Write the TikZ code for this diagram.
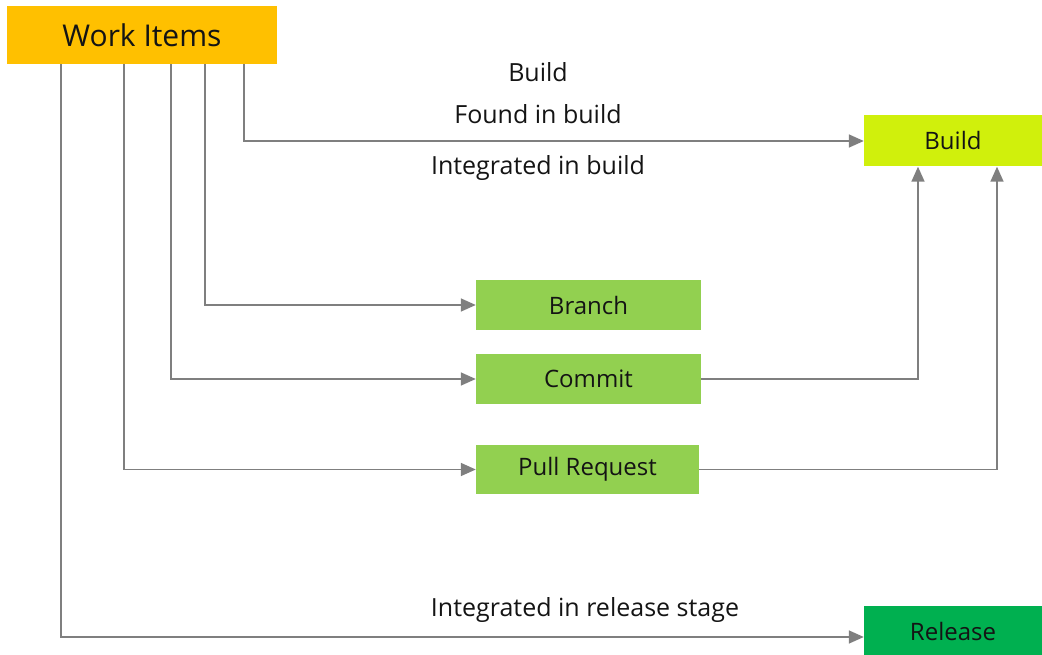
\documentclass[tikz,border=0pt]{standalone}
\usepackage{fontspec}
\setmainfont{Open Sans}
\usetikzlibrary{arrows.meta}
\definecolor{wiC}{HTML}{FFC000}
\definecolor{buildC}{HTML}{D0F00C}
\definecolor{greenC}{HTML}{92D050}
\definecolor{relC}{HTML}{00B050}
\definecolor{lineC}{HTML}{7F7F7F}
\definecolor{txtC}{HTML}{141414}
\begin{document}
\begin{tikzpicture}[x=1pt,y=-1pt,
  box/.style={draw=none,inner sep=0pt,minimum height=#1,text=txtC,font=\fontsize{24}{27}\selectfont},
  conn/.style={draw=lineC,line width=1.6pt,-{Triangle[length=15pt,width=13pt]}},
  lbl/.style={text=txtC,font=\fontsize{25}{28}\selectfont,inner sep=0pt}]
\useasboundingbox (0,0) rectangle (1042,655);
\node[box=58pt,fill=wiC,minimum width=270pt,font=\fontsize{30}{33}\selectfont] (wi) at (142,35) {Work Items};
\node[box=51pt,fill=buildC,minimum width=178pt] (build) at (953,141) {Build};
\node[box=50pt,fill=greenC,minimum width=225pt] (branch) at (588.5,305) {Branch};
\node[box=50pt,fill=greenC,minimum width=225pt] (commit) at (588.5,379) {Commit};
\node[box=49pt,fill=greenC,minimum width=223pt] (pr) at (587.5,469.5) {Pull Request};
\node[box=50pt,fill=relC,minimum width=178pt] (rel) at (953,631) {Release};
\coordinate (c1) at (244,0);
\coordinate (c2) at (205,0);
\coordinate (c3) at (171,0);
\coordinate (c4) at (124,0);
\coordinate (c5) at (61,0);
\draw[conn] (wi.south -| c1) |- (build.west);
\draw[conn] (wi.south -| c2) |- (branch.west);
\draw[conn] (wi.south -| c3) |- (commit.west);
\draw[conn] (wi.south -| c4) |- (pr.west);
\draw[conn] (wi.south -| c5) |- (rel.west |- 0,637);
\coordinate (b1) at (918,0);
\coordinate (b2) at (997,0);
\draw[conn] (commit.east) -| (build.south -| b1);
\draw[conn] (pr.east) -| (build.south -| b2);
\node[lbl] (l1) at (538,72) {Build};
\node[lbl] (l2) at (538,114) {Found in build};
\node[lbl] (l3) at (538,168) {Integrated in build};
\node[lbl] (l4) at (585,610) {Integrated in release stage};
\end{tikzpicture}
\end{document}
